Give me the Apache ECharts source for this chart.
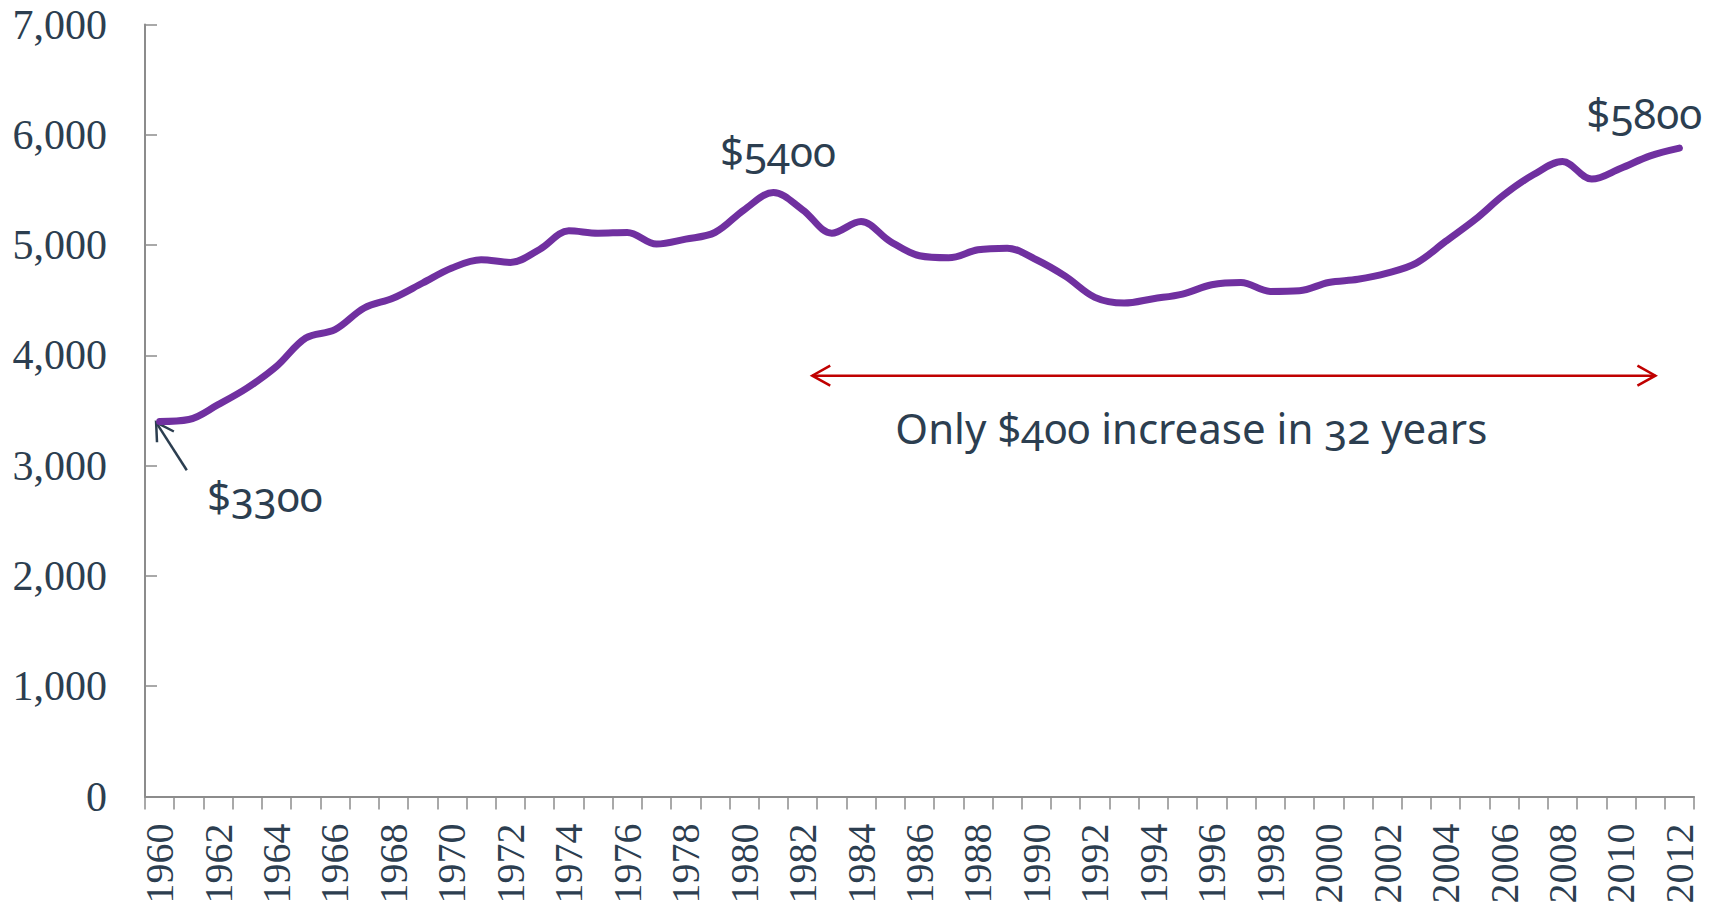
<!DOCTYPE html>
<html>
<head>
<meta charset="utf-8">
<title>Income 1960-2012</title>
<script src="https://cdn.jsdelivr.net/npm/echarts/dist/echarts.min.js"></script>
<style>
  html, body { margin: 0; padding: 0; background: #fff; }
  #chart { width: 1719px; height: 908px; }
  /* old style figures for the annotations (serif axis font has none) */
  #chart text { font-variant-numeric: oldstyle-nums !important; font-feature-settings: "onum" 1 !important; }
</style>
</head>
<body>
<div id="chart"></div>
<script>
// categories
const years = [
  '1960', '1961', '1962', '1963', '1964', '1965', '1966', '1967', '1968', '1969',
  '1970', '1971', '1972', '1973', '1974', '1975', '1976', '1977', '1978', '1979',
  '1980', '1981', '1982', '1983', '1984', '1985', '1986', '1987', '1988', '1989',
  '1990', '1991', '1992', '1993', '1994', '1995', '1996', '1997', '1998', '1999',
  '2000', '2001', '2002', '2003', '2004', '2005', '2006', '2007', '2008', '2009',
  '2010', '2011', '2012'
]

// values
const income = [
  3400, 3418, 3553, 3705, 3900, 4157, 4233, 4429, 4520, 4656,
  4792, 4867, 4843, 4960, 5129, 5108, 5114, 5009, 5054, 5114,
  5320, 5477, 5320, 5108, 5214, 5033, 4903, 4885, 4957, 4972,
  4867, 4716, 4526, 4474, 4514, 4556, 4640, 4661, 4580, 4586,
  4661, 4690, 4746, 4837, 5033, 5229, 5456, 5637, 5757, 5598,
  5697, 5809, 5879
]

const yTicks = [0, 1000, 2000, 3000, 4000, 5000, 6000, 7000]

// annotations, anchored in data space: [year, value]
const noteTexts = ['$3300', '$5400', '$5800', 'Only $400 increase in 32 years']
const noteAnchors = [[1963.6, 2729], [1981.16, 5854], [2010.8, 6198], [1995.3, 3345]]
const spanArrow = [[1982.33, 3816], [2011.18, 3816]]   // red double arrow
const startArrow = [[1960.93, 2958], [1959.88, 3393]]  // tail, tip

const textColor = '#2c3e50'
const chart = echarts.init(document.getElementById('chart'), null, { renderer: 'svg' })

chart.setOption({
  animation: false,
  grid: { left: 145, right: 25, top: 24.5, bottom: 111.5 },
  xAxis: {
    type: 'category',
    data: years,
    boundaryGap: true,
    axisLine: { lineStyle: { color: '#8c8c8c', width: 2 } },
    axisTick: { show: true, interval: 0, length: 13, lineStyle: { color: '#8c8c8c', width: 1.5 } },
    axisLabel: {
      interval: 1,
      rotate: 90,
      margin: 27,
      fontFamily: 'Liberation Serif',
      fontSize: 40,
      color: textColor
    },
    splitLine: { show: false }
  },
  yAxis: {
    type: 'value',
    min: yTicks[0],
    max: yTicks[yTicks.length - 1],
    interval: 1000,
    axisLine: { show: true, lineStyle: { color: '#8c8c8c', width: 2 } },
    axisTick: { show: true, inside: true, length: 12, lineStyle: { color: '#8c8c8c', width: 1.5 } },
    axisLabel: {
      margin: 38,
      fontFamily: 'Liberation Serif',
      fontSize: 42,
      color: textColor,
      formatter: v => v.toLocaleString('en-US')
    },
    splitLine: { show: false }
  },
  series: [{
    type: 'line',
    data: income,
    smooth: 0.35,
    showSymbol: false,
    lineStyle: { color: '#7030a0', width: 7, cap: 'round', join: 'round' }
  }]
})

// data -> pixel, with fractional years
function toPx(year, value) {
  const p0 = chart.convertToPixel({ gridIndex: 0 }, [0, value])
  const p1 = chart.convertToPixel({ gridIndex: 0 }, [1, value])
  return [p0[0] + (p1[0] - p0[0]) * (year - 1960), p0[1]]
}

function buildGraphics() {
  const items = []
  const red = '#c00000'

  // red double arrow
  const a = toPx(spanArrow[0][0], spanArrow[0][1])
  const b = toPx(spanArrow[1][0], spanArrow[1][1])
  items.push({ type: 'line', shape: { x1: a[0], y1: a[1], x2: b[0], y2: b[1] }, style: { stroke: red, lineWidth: 2.5 } })
  items.push({ type: 'polyline', shape: { points: [[a[0] + 18, a[1] - 10], a, [a[0] + 18, a[1] + 10]] }, style: { stroke: red, lineWidth: 2.5, fill: null } })
  items.push({ type: 'polyline', shape: { points: [[b[0] - 18, b[1] - 10], b, [b[0] - 18, b[1] + 10]] }, style: { stroke: red, lineWidth: 2.5, fill: null } })

  // small arrow pointing to the 1960 value
  const tail = toPx(startArrow[0][0], startArrow[0][1])
  const tip = toPx(startArrow[1][0], startArrow[1][1])
  const dx = tail[0] - tip[0], dy = tail[1] - tip[1]
  const len = Math.sqrt(dx * dx + dy * dy)
  const ux = dx / len, uy = dy / len
  const arm = 20, c = Math.cos(Math.PI / 6), s = Math.sin(Math.PI / 6)
  const w1 = [tip[0] + arm * (ux * c - uy * s), tip[1] + arm * (ux * s + uy * c)]
  const w2 = [tip[0] + arm * (ux * c + uy * s), tip[1] + arm * (-ux * s + uy * c)]
  items.push({ type: 'line', shape: { x1: tail[0], y1: tail[1], x2: tip[0], y2: tip[1] }, style: { stroke: textColor, lineWidth: 2.5 } })
  items.push({ type: 'polyline', shape: { points: [w1, tip, w2] }, style: { stroke: textColor, lineWidth: 2.5, fill: null } })

  // texts
  noteTexts.forEach((t, i) => {
    const p = toPx(noteAnchors[i][0], noteAnchors[i][1])
    items.push({
      type: 'text',
      x: p[0],
      y: p[1],
      style: {
        text: t,
        fontFamily: 'Noto Sans',
        fontSize: 42,
        fill: textColor,
        align: 'center',
        verticalAlign: 'middle'
      }
    })
  })
  return items
}

chart.setOption({ graphic: buildGraphics() })
</script>
</body>
</html>
